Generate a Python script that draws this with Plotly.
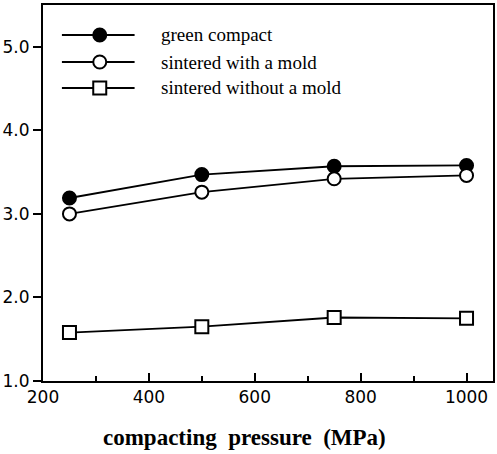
import plotly.graph_objects as go

pressure = [250, 500, 750, 1000]
green_compact = [3.19, 3.47, 3.57, 3.58]
sintered_with_mold = [3.00, 3.26, 3.42, 3.46]
sintered_without_mold = [1.58, 1.65, 1.76, 1.75]

series_names = ["green compact", "sintered with a mold", "sintered without a mold"]
x_ticks = [200, 400, 600, 800, 1000]
y_ticks = [1.0, 2.0, 3.0, 4.0, 5.0]
x_title = "compacting\u00a0\u00a0pressure\u00a0\u00a0(MPa)"

W, H = 497, 454
ml, mr, mt, mb = 43, 2, 5, 73

fig = go.Figure()
styles = [
    dict(symbol="circle", color="black", size=13),
    dict(symbol="circle", color="white", size=13),
    dict(symbol="square", color="white", size=13),
]
for name, ys, st in zip(series_names, [green_compact, sintered_with_mold, sintered_without_mold], styles):
    fig.add_trace(go.Scatter(
        x=pressure, y=ys, mode="lines+markers", name=name,
        line=dict(color="black", width=1.8),
        marker=dict(symbol=st["symbol"], size=st["size"], color=st["color"],
                    line=dict(color="black", width=2)),
        showlegend=False,
    ))

pw = W - ml - mr
ph = H - mt - mb
def px_x(p):
    return (p - ml) / pw
def px_y(p):
    return 1 - (p - mt) / ph

legend_rows = [35, 62, 88]
shapes = []
annotations = []
for name, st, yrow in zip(series_names, styles, legend_rows):
    yy = px_y(yrow)
    shapes.append(dict(type="line", xref="paper", yref="paper",
                       x0=px_x(62), x1=px_x(135), y0=yy, y1=yy,
                       line=dict(color="black", width=2)))
    r = 6.5
    shapes.append(dict(type="circle" if st["symbol"] == "circle" else "rect",
                       xref="paper", yref="paper",
                       xsizemode="pixel", ysizemode="pixel",
                       xanchor=px_x(100), yanchor=yy,
                       x0=-r, x1=r, y0=-r, y1=r,
                       fillcolor=st["color"], line=dict(color="black", width=2)))
    annotations.append(dict(xref="paper", yref="paper", x=px_x(160), y=yy,
                            xanchor="left", yanchor="middle", text=name, showarrow=False,
                            font=dict(family="Liberation Serif", size=19, color="black")))

annotations.append(dict(xref="paper", yref="paper", x=px_x(245), y=px_y(437),
                        xanchor="center", yanchor="middle", text=x_title, showarrow=False,
                        font=dict(family="Liberation Serif", size=23, color="black", weight="bold")))

fig.update_layout(
    width=W, height=H,
    margin=dict(l=ml, r=mr, t=mt, b=mb),
    paper_bgcolor="white", plot_bgcolor="white",
    shapes=shapes, annotations=annotations,
    showlegend=False,
)
fig.update_xaxes(
    range=[200, 1050], tickvals=x_ticks, ticktext=[str(v) for v in x_ticks],
    ticks="inside", ticklen=8, tickwidth=2, tickcolor="black",
    minor=dict(dtick=100, tick0=200, ticks="inside", ticklen=5, tickwidth=2, tickcolor="black"),
    showline=True, linecolor="black", linewidth=2, mirror=True,
    showgrid=False, zeroline=False,
    tickfont=dict(family="DejaVu Sans", size=17, color="black"),
)
fig.update_yaxes(
    range=[1, 5.5], tickvals=y_ticks, ticktext=[f"{v:.1f}" for v in y_ticks],
    ticks="outside", ticklen=8, tickwidth=2, tickcolor="black",
    showline=True, linecolor="black", linewidth=2, mirror=True,
    showgrid=False, zeroline=False,
    tickfont=dict(family="DejaVu Sans", size=17, color="black"),
)
fig.write_html("out.html")
